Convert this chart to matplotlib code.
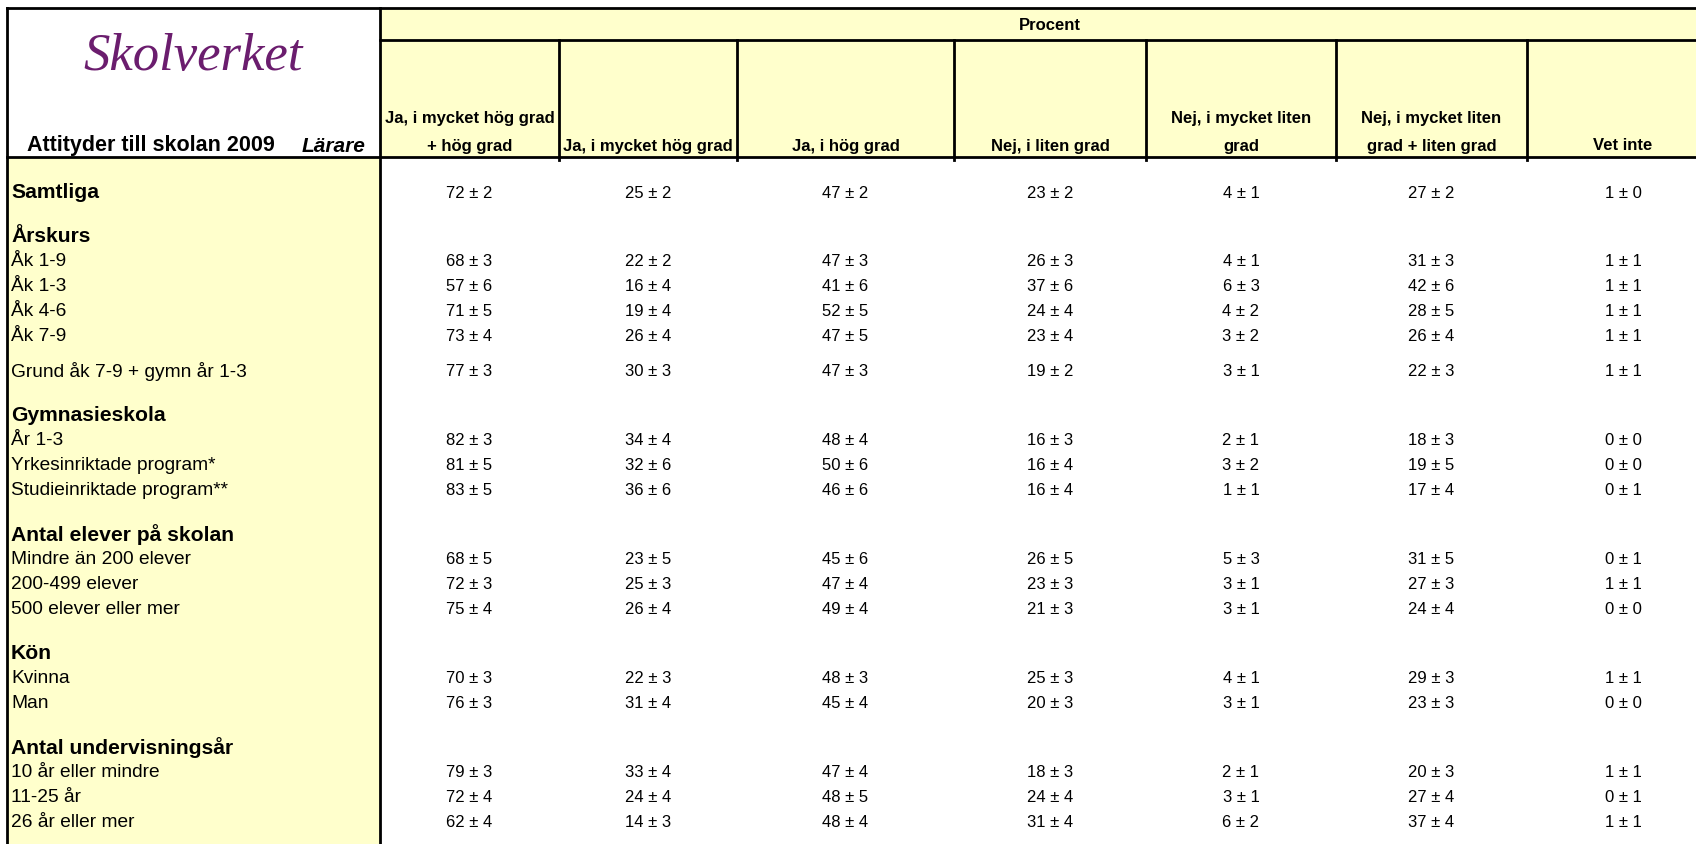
import matplotlib.pyplot as plt
from matplotlib.patches import Rectangle

plt.rcParams['font.family'] = ['Liberation Sans', 'DejaVu Sans']

# column headers
headers = ["Ja, i mycket hög grad\n+ hög grad", "Ja, i mycket hög grad", "Ja, i hög grad",
           "Nej, i liten grad", "Nej, i mycket liten\ngrad", "Nej, i mycket liten\ngrad + liten grad",
           "Vet inte"]

# row labels, kind: total / head (group title) / row / gap (row with extra space above)
row_labels = ["Samtliga",
              "Årskurs", "Åk 1-9", "Åk 1-3", "Åk 4-6", "Åk 7-9", "Grund åk 7-9 + gymn år 1-3",
              "Gymnasieskola", "År 1-3", "Yrkesinriktade program*", "Studieinriktade program**",
              "Antal elever på skolan", "Mindre än 200 elever", "200-499 elever", "500 elever eller mer",
              "Kön", "Kvinna", "Man",
              "Antal undervisningsår", "10 år eller mindre", "11-25 år", "26 år eller mer"]
row_kind = ["total",
            "head", "row", "row", "row", "row", "gap",
            "head", "row", "row", "row",
            "head", "row", "row", "row",
            "head", "row", "row",
            "head", "row", "row", "row"]

# percent values for the data rows (group titles have none)
pct = [
    [72, 25, 47, 23, 4, 27, 1],
    [68, 22, 47, 26, 4, 31, 1],
    [57, 16, 41, 37, 6, 42, 1],
    [71, 19, 52, 24, 4, 28, 1],
    [73, 26, 47, 23, 3, 26, 1],
    [77, 30, 47, 19, 3, 22, 1],
    [82, 34, 48, 16, 2, 18, 0],
    [81, 32, 50, 16, 3, 19, 0],
    [83, 36, 46, 16, 1, 17, 0],
    [68, 23, 45, 26, 5, 31, 0],
    [72, 25, 47, 23, 3, 27, 1],
    [75, 26, 49, 21, 3, 24, 0],
    [70, 22, 48, 25, 4, 29, 1],
    [76, 31, 45, 20, 3, 23, 0],
    [79, 33, 47, 18, 2, 20, 1],
    [72, 24, 48, 24, 3, 27, 0],
    [62, 14, 48, 31, 6, 37, 1],
]
# margins of error
err = [
    [2, 2, 2, 2, 1, 2, 0],
    [3, 2, 3, 3, 1, 3, 1],
    [6, 4, 6, 6, 3, 6, 1],
    [5, 4, 5, 4, 2, 5, 1],
    [4, 4, 5, 4, 2, 4, 1],
    [3, 3, 3, 2, 1, 3, 1],
    [3, 4, 4, 3, 1, 3, 0],
    [5, 6, 6, 4, 2, 5, 0],
    [5, 6, 6, 4, 1, 4, 1],
    [5, 5, 6, 5, 3, 5, 1],
    [3, 3, 4, 3, 1, 3, 1],
    [4, 4, 4, 3, 1, 4, 0],
    [3, 3, 3, 3, 1, 3, 1],
    [3, 4, 4, 3, 1, 3, 0],
    [3, 4, 4, 3, 1, 3, 1],
    [4, 4, 5, 4, 1, 4, 1],
    [4, 3, 4, 4, 2, 4, 1],
]

W, H = 1696, 845
yellow = '#ffffcc'
purple = '#6b1d6e'

fig = plt.figure(figsize=(W / 100, H / 100), dpi=100)
ax = fig.add_axes([0, 0, 1, 1])
ax.set_xlim(0, W)
ax.set_ylim(H, 0)
ax.axis('off')

left, top, split, procent_line, head_line = 7, 9, 380, 41, 158
col_edges = [380, 559, 737, 954, 1146, 1336, 1527, 1719]

# backgrounds
ax.add_patch(Rectangle((split, top), W - split, head_line - top, color=yellow, zorder=0))
ax.add_patch(Rectangle((left, head_line), split - left, H - head_line, color=yellow, zorder=0))

# grid lines
lw = 2.0
ax.plot([left, W], [top, top], color='black', lw=lw)
ax.plot([left, left], [top, H], color='black', lw=lw)
ax.plot([split, split], [top, H], color='black', lw=lw)
ax.plot([split, W], [procent_line, procent_line], color='black', lw=lw)
ax.plot([left, W], [head_line, head_line], color='black', lw=lw)
for x in col_edges[1:-1]:
    ax.plot([x, x], [procent_line, head_line + 3], color='black', lw=lw)

# top-left cell
ax.text(193, 57, "Skolverket", family=['Liberation Serif'], style='italic',
        fontsize=38, color=purple, ha='center', va='center')
ax.text(27, 146, "Attityder till skolan 2009", fontsize=15.5, weight='bold', va='center')
ax.text(365, 146, "Lärare", fontsize=15, weight='bold', style='italic', va='center', ha='right')

ax.text((split + col_edges[-1]) / 2, 25, "Procent", fontsize=12, weight='bold',
        ha='center', va='center')

centers = [(a + b) / 2 for a, b in zip(col_edges[:-1], col_edges[1:])]
for cx, h in zip(centers, headers):
    lines = h.split('\n')
    for k, line in enumerate(reversed(lines)):
        ax.text(cx, 146 - 27 * k, line, fontsize=12, weight='bold', ha='center', va='center')

# rows
y = 193
d = 0
for i, (lab, kind) in enumerate(zip(row_labels, row_kind)):
    if i > 0:
        if kind == 'head':
            y += 44
        elif kind == 'gap':
            y += 35
        else:
            y += 25
    bold = kind in ('total', 'head')
    ax.text(11, y, lab, fontsize=15.2 if bold else 13.8, weight='bold' if bold else 'normal',
            va='center', ha='left')
    if kind != 'head':
        for cx, v, e in zip(centers, pct[d], err[d]):
            ax.text(cx, y, f"{v} ± {e}", fontsize=12, ha='center', va='center')
        d += 1

fig.savefig('out.png', dpi=100)
